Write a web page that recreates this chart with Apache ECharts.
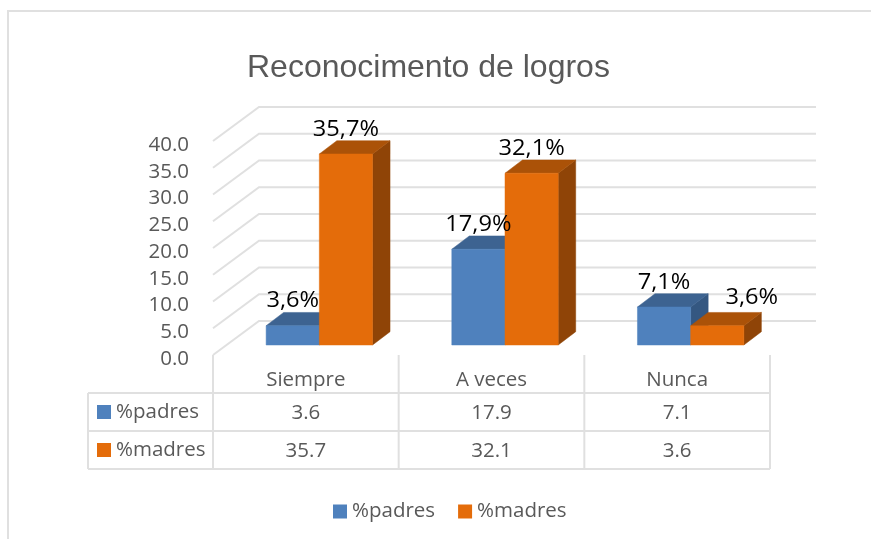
<!DOCTYPE html>
<html><head><meta charset="utf-8">
<style>html,body{margin:0;padding:0;background:#fff}#c{width:871px;height:539px}</style>
<script src="https://cdn.jsdelivr.net/npm/echarts@6/dist/echarts.min.js"></script>
</head><body><div id="c"></div>
<script>
const titleText = 'Reconocimento de logros';
const categories = ['Siempre', 'A veces', 'Nunca'];
const yTicks = [0, 5, 10, 15, 20, 25, 30, 35, 40];
const padres = [3.6, 17.9, 7.1];
const madres = [35.7, 32.1, 3.6];
const nameP = '%padres';
const nameM = '%madres';

const FONT = '"Open Sans"';
const GREY = '#595959';
const LINE = '#e0e0e0';
const BLUE = ['#4f81bd', '#3d6391', '#345781'];
const ORANGE = ['#e46c0a', '#ab5208', '#8f4407'];

// projection of the pseudo-3D box
const WALL = { dx: 46, dy: -34 };
const BAR_FRONT = { dx: 13.5, dy: -10 };
const BAR_DEPTH = { dx: 17.5, dy: -13.3 };
const BAR_W = 53.2;
const GRID = { left: 213, right: 101, top: 141, bottom: 184 };
const ROWS = { y0: 393, y1: 431, y2: 469, x0: 88 };

const chart = echarts.init(document.getElementById('c'), null, { renderer: 'canvas' });

function wallItem(params, api) {
  const v = api.value(0);
  const rect = params.coordSys;
  const y = api.coord([0, v])[1];
  const x0 = rect.x, x1 = rect.x + rect.width;
  return {
    type: 'polyline',
    shape: { points: [[x0, y], [x0 + WALL.dx, y + WALL.dy], [x1 + WALL.dx, y + WALL.dy]] },
    style: { fill: null, stroke: LINE, lineWidth: 2 }
  };
}

function barItem(side, colors) {
  return function (params, api) {
    const p0 = api.coord([api.value(0), 0]);
    const p1 = api.coord([api.value(0), api.value(1)]);
    const xl = p0[0] + BAR_FRONT.dx + (side === 0 ? -BAR_W : 0);
    const xr = xl + BAR_W;
    const yb = p0[1] + BAR_FRONT.dy;
    const yt = p1[1] + BAR_FRONT.dy;
    const dx = BAR_DEPTH.dx, dy = BAR_DEPTH.dy;
    const poly = (pts, c) => ({ type: 'polygon', shape: { points: pts }, style: { fill: c, stroke: c, lineWidth: 0.5 } });
    return {
      type: 'group',
      children: [
        poly([[xr, yb], [xr + dx, yb + dy], [xr + dx, yt + dy], [xr, yt]], colors[2]),
        poly([[xl, yt], [xr, yt], [xr + dx, yt + dy], [xl + dx, yt + dy]], colors[1]),
        poly([[xl, yb], [xr, yb], [xr, yt], [xl, yt]], colors[0])
      ]
    };
  };
}

function labelItem(side) {
  return function (params, api) {
    const idx = api.value(0), val = api.value(1);
    const p0 = api.coord([idx, 0]);
    const p1 = api.coord([idx, val]);
    let x = p0[0] + BAR_FRONT.dx + (side === 0 ? -BAR_W / 2 : BAR_W / 2);
    let y = p1[1] + BAR_FRONT.dy - 24.5;
    if (side === 1 && idx === 2) { x += 34.5; y -= 3.5; }
    return {
      type: 'text',
      x: x, y: y, scaleX: 1.1,
      style: {
        x: 0, y: 0, text: val.toFixed(1).replace('.', ',') + '%',
        fill: '#000', font: '21.5px ' + FONT, align: 'center', verticalAlign: 'middle'
      }
    };
  };
}

function tableItem(params, api) {
  const rect = params.coordSys;
  const seg = (x1, y1, x2, y2) => ({ type: 'line', shape: { x1, y1, x2, y2 }, style: { stroke: LINE, lineWidth: 2 } });
  const txt = (x, y, t, align) => ({
    type: 'text',
    style: { x, y, text: t, fill: GREY, font: '20.5px ' + FONT, align: align, verticalAlign: 'middle' }
  });
  const kids = [];
  const top = rect.y + rect.height;
  const xs = [0, 1, 2].map(i => api.coord([i, 0])[0] - rect.width / 6);
  xs.push(rect.x + rect.width);
  xs.forEach(x => kids.push(seg(x, top, x, ROWS.y2)));
  kids.push(seg(ROWS.x0, ROWS.y0, ROWS.x0, ROWS.y2));
  [ROWS.y0, ROWS.y1, ROWS.y2].forEach(y => kids.push(seg(ROWS.x0, y, rect.x + rect.width, y)));
  [[nameP, padres, BLUE[0], ROWS.y0], [nameM, madres, ORANGE[0], ROWS.y1]].forEach(r => {
    const cy = r[3] + 19;
    kids.push({ type: 'rect', shape: { x: 97, y: cy - 7, width: 14, height: 14 }, style: { fill: r[2] } });
    kids.push(txt(116, cy, r[0], 'left'));
    r[1].forEach((v, i) => kids.push(txt(api.coord([i, 0])[0], cy + 1, v.toFixed(1), 'center')));
  });
  return { type: 'group', children: kids };
}

function barData(vals) { return vals.map((v, i) => [i, v]); }

chart.setOption({
  animation: false,
  backgroundColor: '#fff',
  title: {
    text: titleText, left: 242, top: 47,
    textStyle: { fontFamily: '"Liberation Sans"', fontSize: 32, fontWeight: 'normal', color: GREY }
  },
  legend: {
    data: [{ name: nameP, icon: 'rect' }, { name: nameM, icon: 'rect' }],
    left: 333, top: 501, padding: 0, itemWidth: 14, itemHeight: 14, itemGap: 23,
    textStyle: { fontFamily: FONT, fontSize: 20.5, color: GREY }
  },
  grid: GRID,
  xAxis: {
    type: 'category', data: categories,
    axisLine: { show: false }, axisTick: { show: false },
    axisLabel: { fontFamily: FONT, fontSize: 20.5, color: GREY, margin: 15 }
  },
  yAxis: {
    type: 'value', min: 0, max: 40, interval: 5,
    splitLine: { show: false }, axisLine: { show: false }, axisTick: { show: false },
    axisLabel: { fontFamily: FONT, fontSize: 20.5, color: GREY, margin: 24, verticalAlign: 'top', lineHeight: 8, formatter: v => v.toFixed(1) }
  },
  graphic: [
    { type: 'polyline', silent: true, shape: { points: [[8, 539], [8, 11], [871, 11]] }, style: { fill: null, stroke: LINE, lineWidth: 2 } }
  ],
  series: [
    { type: 'custom', name: 'grid', coordinateSystem: 'cartesian2d', z: 1, clip: false, silent: true, renderItem: wallItem, encode: { y: 0 }, data: yTicks.map(v => [v]) },
    { type: 'custom', name: 'tabla', coordinateSystem: 'cartesian2d', z: 1, clip: false, silent: true, renderItem: tableItem, data: [[0]] },
    { type: 'custom', name: nameP, coordinateSystem: 'cartesian2d', z: 2, clip: false, itemStyle: { color: BLUE[0] }, renderItem: barItem(0, BLUE), encode: { x: 0, y: 1 }, data: barData(padres) },
    { type: 'custom', name: nameM, coordinateSystem: 'cartesian2d', z: 3, clip: false, itemStyle: { color: ORANGE[0] }, renderItem: barItem(1, ORANGE), encode: { x: 0, y: 1 }, data: barData(madres) },
    { type: 'custom', name: 'etiquetas p', coordinateSystem: 'cartesian2d', z: 5, clip: false, silent: true, renderItem: labelItem(0), encode: { x: 0, y: 1 }, data: barData(padres) },
    { type: 'custom', name: 'etiquetas m', coordinateSystem: 'cartesian2d', z: 5, clip: false, silent: true, renderItem: labelItem(1), encode: { x: 0, y: 1 }, data: barData(madres) }
  ]
});
</script></body></html>
